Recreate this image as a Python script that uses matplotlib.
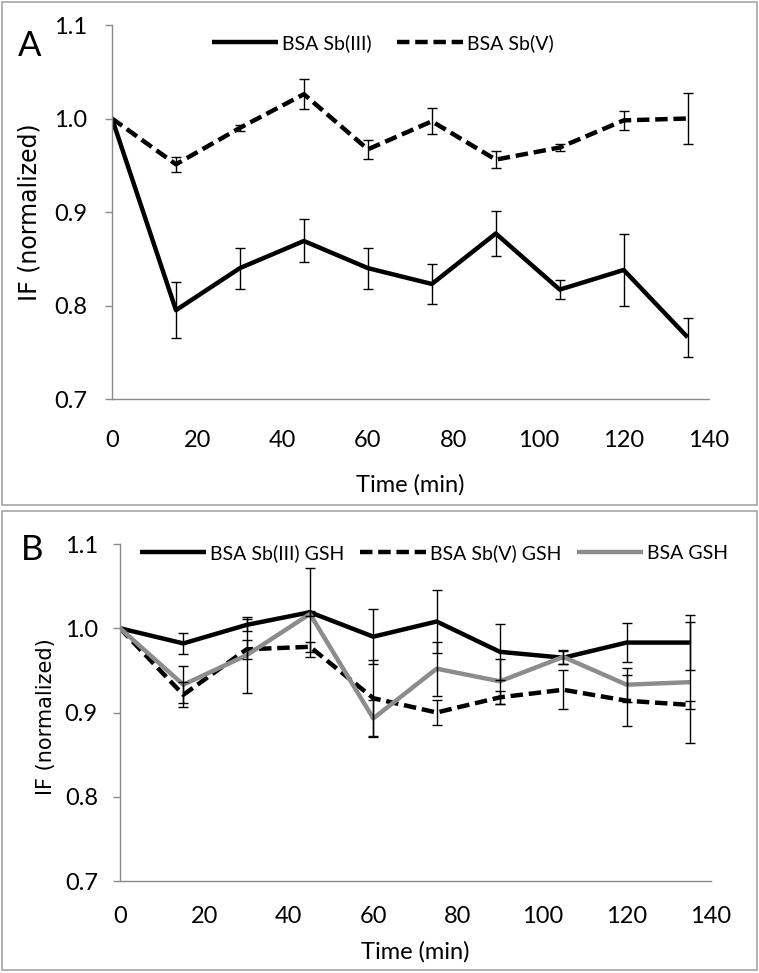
import matplotlib
matplotlib.use("Agg")
import matplotlib.pyplot as plt
from matplotlib.patches import Rectangle
import numpy as np

# ---------------- data ----------------
time = [0, 15, 30, 45, 60, 75, 90, 105, 120, 135]

a_sb3 = [1.0, 0.795, 0.840, 0.869, 0.840, 0.823, 0.877, 0.817, 0.838, 0.766]
a_sb3_err = [0, 0.030, 0.022, 0.023, 0.022, 0.021, 0.024, 0.010, 0.038, 0.021]
a_sb5 = [1.0, 0.951, 0.990, 1.026, 0.967, 0.997, 0.956, 0.969, 0.998, 1.0]
a_sb5_err = [0, 0.008, 0.003, 0.016, 0.010, 0.014, 0.009, 0.004, 0.010, 0.027]

b_sb3 = [1.0, 0.982, 1.004, 1.019, 0.990, 1.008, 0.972, 0.965, 0.983, 0.983]
b_sb3_err = [0, 0.012, 0.007, 0.053, 0.033, 0.037, 0.033, 0.008, 0.023, 0.033]
b_sb5 = [1.0, 0.921, 0.975, 0.978, 0.917, 0.900, 0.918, 0.927, 0.914, 0.909]
b_sb5_err = [0, 0.015, 0.011, 0.006, 0.045, 0.015, 0.008, 0.023, 0.030, 0.005]
b_gsh = [1.0, 0.933, 0.968, 1.017, 0.893, 0.952, 0.937, 0.966, 0.933, 0.936]
b_gsh_err = [0, 0.022, 0.045, 0.003, 0.022, 0.032, 0.027, 0.008, 0.020, 0.072]

legend_a = ["BSA Sb(III)", "BSA Sb(V)"]
legend_b = ["BSA Sb(III) GSH", "BSA Sb(V) GSH", "BSA GSH"]
yticks = [0.7, 0.8, 0.9, 1.0, 1.1]
xticks = [0, 20, 40, 60, 80, 100, 120, 140]

# ---------------- style ----------------
W, H = 759, 973
fig = plt.figure(figsize=(W / 100, H / 100), dpi=100)
TFONT = ["Lato", "DejaVu Sans"]
AXC = "#8a8a8a"
GRAY = "#8c8c8c"
LW = 3.2
DASH = (2.8, 1.3)


def px_axes(l, t, r, b):
    return [l / W, 1 - b / H, (r - l) / W, (b - t) / H]


def style_axes(ax, ypad, xpad):
    ax.set_xlim(0, 140)
    ax.set_ylim(0.7, 1.1)
    for s in ["top", "right"]:
        ax.spines[s].set_visible(False)
    for s in ["left", "bottom"]:
        ax.spines[s].set_color(AXC)
        ax.spines[s].set_linewidth(1.0)
    ax.set_yticks(yticks)
    ax.set_yticklabels([f"{v:.1f}" for v in yticks], fontfamily=TFONT, fontsize=17)
    ax.set_xticks(xticks)
    ax.set_xticklabels([str(v) for v in xticks], fontfamily=TFONT, fontsize=17)
    ax.tick_params(axis="y", direction="out", length=5, width=1, color=AXC, pad=ypad)
    ax.tick_params(axis="x", length=0, pad=xpad)


def draw(ax, series, errs, styles):
    handles = []
    for y, st in zip(series, styles):
        ln, = ax.plot(time, y, **st, zorder=2, solid_capstyle="butt")
        handles.append(ln)
    for y, e in zip(series, errs):
        ax.errorbar(time[1:], y[1:], yerr=e[1:], fmt="none", ecolor="black",
                    elinewidth=1.0, capsize=3.6, capthick=1.0, zorder=3)
    return handles


# ---------------- panel A ----------------
axA = fig.add_axes(px_axes(112, 25, 709, 399))
style_axes(axA, ypad=13, xpad=22)
hA = draw(axA, [a_sb3, a_sb5], [a_sb3_err, a_sb5_err],
          [dict(color="black", lw=LW),
           dict(color="black", lw=LW, ls=(0, DASH))])
axA.set_xlabel("Time (min)", fontfamily=TFONT, fontsize=17, labelpad=17)
fig.text(30 / W, 1 - 212 / H, "IF (normalized)", rotation=90, fontsize=17,
         fontfamily="DejaVu Sans", ha="center", va="center")
fig.text(30 / W, 1 - 46 / H, "A", fontsize=25, fontfamily=TFONT, ha="center", va="center")
fig.legend(hA, legend_a, loc="center", bbox_to_anchor=(383 / W, 1 - 43 / H),
           ncol=2, frameon=False, prop={"family": TFONT, "size": 14},
           handlelength=3.4, handletextpad=0.2, columnspacing=1.3)

# ---------------- panel B ----------------
axB = fig.add_axes(px_axes(120, 544, 711, 881))
style_axes(axB, ypad=11, xpad=18)
hB = draw(axB, [b_sb3, b_sb5, b_gsh], [b_sb3_err, b_sb5_err, b_gsh_err],
          [dict(color="black", lw=LW),
           dict(color="black", lw=LW, ls=(0, DASH)),
           dict(color=GRAY, lw=LW)])
axB.set_xlabel("Time (min)", fontfamily=TFONT, fontsize=17, labelpad=10)
fig.text(46 / W, 1 - 717 / H, "IF (normalized)", rotation=90, fontsize=15,
         fontfamily="DejaVu Sans", ha="center", va="center")
fig.text(32 / W, 1 - 550 / H, "B", fontsize=25, fontfamily=TFONT, ha="center", va="center")
fig.legend(hB, legend_b, loc="center", bbox_to_anchor=(434 / W, 1 - 553 / H),
           ncol=3, frameon=False, prop={"family": TFONT, "size": 14},
           handlelength=3.4, handletextpad=0.2, columnspacing=0.8)

# ---------------- panel frames ----------------
for (l, t, r, b) in [(2, 2, 757, 505), (2, 511, 757, 970)]:
    fig.add_artist(Rectangle((l / W, 1 - b / H), (r - l) / W, (b - t) / H,
                             transform=fig.transFigure, fill=False,
                             edgecolor="#a6a6a6", lw=1.2))

fig.savefig("out.png", dpi=100)
